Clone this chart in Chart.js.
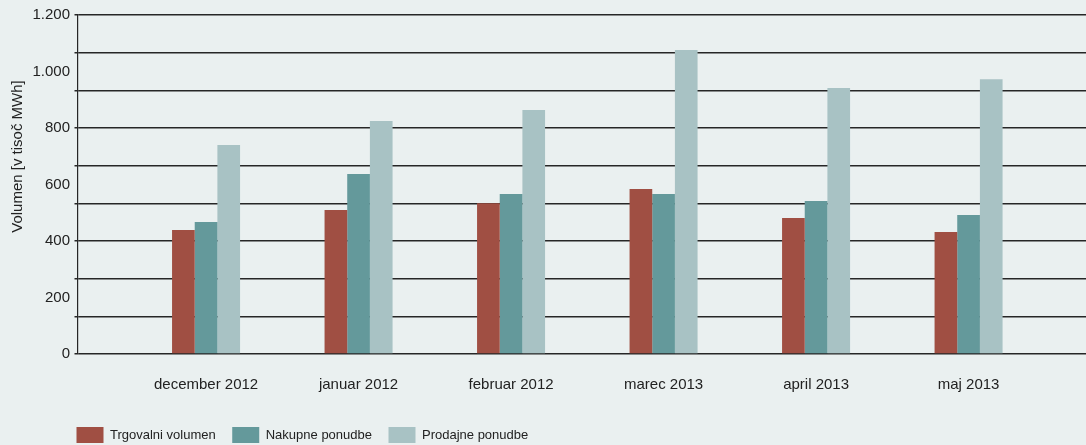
<!DOCTYPE html>
<html><head><meta charset="utf-8">
<script src="https://cdn.jsdelivr.net/npm/chart.js@4.4.1/dist/chart.umd.min.js"></script>
<style>
html,body{margin:0;padding:0;background:#eaf0f0;overflow:hidden;}
#wrap{position:relative;width:1086px;height:453px;}
</style></head><body>
<div id="wrap"><canvas id="c"></canvas></div>
<script>
const categories = ['december 2012','januar 2012','februar 2012','marec 2013','april 2013','maj 2013'];
const seriesNames = ['Trgovalni volumen','Nakupne ponudbe','Prodajne ponudbe'];
const trgovalniVolumen = [439, 510, 534, 584, 481, 432];
const nakupnePonudbe  = [467, 637, 566, 566, 542, 492];
const prodajnePonudbe = [740, 825, 864, 1076, 942, 973];
const yTickValues = [0, 200, 400, 600, 800, 1000, 1200];
const yTitle = 'Volumen [v tisoč MWh]';
const yMax = 1200;
const yGridCount = 9;

const FONT = '"Liberation Sans", Arial, Helvetica, sans-serif';
const colors = ['#a04f43', '#64999b', '#a8c2c4'];
const gridColor = '#262626';

function fmt(v){ return String(v).replace(/\B(?=(\d{3})+(?!\d))/g, '.'); }
function isGrid(v){ const k = v * yGridCount / yMax; return Math.abs(k - Math.round(k)) < 1e-6; }

const yTitlePlugin = {
  id: 'yTitle',
  afterLayout(chart){
    if (chart.legend) { chart.legend.left = 60; }
  },
  afterDraw(chart){
    const ctx = chart.ctx, a = chart.chartArea;
    ctx.save();
    ctx.font = '15px ' + FONT;
    ctx.fillStyle = '#222';
    ctx.textAlign = 'center';
    ctx.textBaseline = 'alphabetic';
    ctx.translate(a.left - 55.5, a.top + 141.5);
    ctx.rotate(-Math.PI / 2);
    ctx.fillText(yTitle, 0, 0);
    ctx.restore();
  }
};

const seriesValues = [trgovalniVolumen, nakupnePonudbe, prodajnePonudbe];

new Chart(document.getElementById('c'), {
  type: 'bar',
  data: {
    datasets: seriesValues.map((vals, s) => ({
      label: seriesNames[s],
      data: vals.map((v, i) => ({x: i, y: v})),
      backgroundColor: colors[s],
      borderWidth: 0,
      categoryPercentage: 0.446,
      barPercentage: 1.0
    }))
  },
  options: {
    responsive: true,
    maintainAspectRatio: false,
    animation: false,
    layout: { padding: { left: 0, top: 15, right: 0, bottom: 0 } },
    plugins: {
      tooltip: { enabled: false },
      legend: {
        position: 'bottom',
        align: 'start',
        labels: {
          boxWidth: 27, boxHeight: 16, padding: 16.5,
          color: '#222',
          font: { family: FONT, size: 13 }
        }
      }
    },
    scales: {
      x: {
        type: 'linear',
        min: -0.843, max: 5.77,
        offset: false,
        afterBuildTicks(axis){ axis.ticks = categories.map((c, i) => ({value: i})); },
        afterFit(axis){ axis.height = 56.5; },
        ticks: {
          autoSkip: false, maxRotation: 0, padding: 14,
          color: '#222', font: { family: FONT, size: 15 },
          callback: (v) => categories[v] ?? ''
        },
        grid: { display: false },
        border: { display: false }
      },
      y: {
        type: 'linear',
        min: 0, max: yMax,
        afterBuildTicks(axis){
          const s = new Set(yTickValues);
          for (let k = 0; k <= yGridCount; k++) s.add(+(k * yMax / yGridCount).toFixed(6));
          axis.ticks = [...s].sort((a, b) => a - b).map(v => ({value: v}));
        },
        afterFit(axis){ axis.width = 77.5; },
        ticks: {
          autoSkip: false, padding: 4.5,
          color: '#222', font: { family: FONT, size: 15 },
          callback: (v) => yTickValues.includes(v) ? fmt(v) : ''
        },
        grid: {
          color: (c) => isGrid(c.tick.value) ? gridColor : 'rgba(0,0,0,0)',
          tickColor: (c) => isGrid(c.tick.value) ? gridColor : 'rgba(0,0,0,0)',
          tickLength: 3,
          lineWidth: 1.5
        },
        border: { display: true, color: gridColor, width: 1.2 }
      }
    }
  },
  plugins: [yTitlePlugin]
});
</script>
</body></html>
